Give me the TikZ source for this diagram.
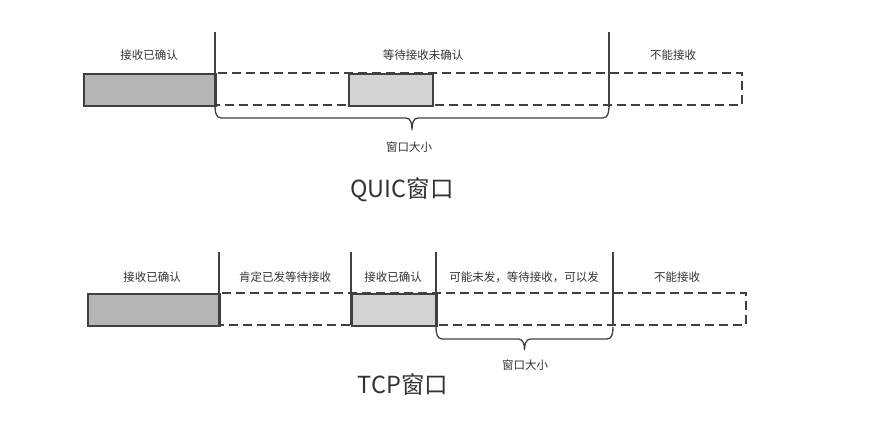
\documentclass[tikz,border=0pt]{standalone}
\usepackage{fontspec}
\setmainfont{Noto Sans CJK SC}
\begin{document}
\begin{tikzpicture}[x=1pt,y=-1pt,
  linec/.style={draw={rgb,255:red,64;green,64;blue,64}},
  cell/.style={linec, line width=1.5pt, minimum height=32pt, inner sep=0pt, anchor=north west},
  darkcell/.style={cell, fill={rgb,255:red,181;green,181;blue,181}},
  lightcell/.style={cell, fill={rgb,255:red,211;green,211;blue,211}},
  dashbox/.style={linec, line width=1.5pt, dash pattern=on 9pt off 5pt},
  divider/.style={linec, line width=1.3pt},
  bracepath/.style={linec, line width=1.3pt},
  lbl/.style={font=\fontsize{11.5}{13}\selectfont, text={rgb,255:red,51;green,51;blue,51}, inner sep=0pt},
  title/.style={font=\fontsize{23.5}{27}\selectfont, text={rgb,255:red,51;green,51;blue,51}, inner sep=0pt}
]
\useasboundingbox (0,0) rectangle (888,440);

% ---------------- QUIC ----------------
\coordinate (qds) at (215,73);
\coordinate (qde) at (742,105);
\draw[dashbox] (qds) rectangle (qde);
\node[darkcell, minimum width=132pt] (qdark) at (83,73) {};
\node[lightcell, minimum width=84pt] (qlight) at (348,73) {};
\coordinate (qv1t) at (215,32);
\coordinate (qv1b) at (215,105);
\coordinate (qv2t) at (609,32);
\coordinate (qv2b) at (609,107);
\draw[divider] (qv1t) -- (qv1b);
\draw[divider] (qv2t) -- (qv2b);

\node[lbl] (ql1) at (149,55) {接收已确认};
\node[lbl] (ql2) at (423,55) {等待接收未确认};
\node[lbl] (ql3) at (673,55) {不能接收};

% brace
\coordinate (qb1) at (215,106);
\coordinate (qb2) at (609,106);
\coordinate (qbm) at (412,130);
\draw[bracepath] (qb1) to[out=-90,in=180] (221,118) -- (406,118)
  to[out=0,in=90] (qbm) to[out=90,in=180] (418,118) -- (603,118)
  to[out=0,in=-90] (qb2);
\node[lbl] (qwin) at (409,147) {窗口大小};
\node[title] (qtitle) at (402,190) {QUIC窗口};

% ---------------- TCP ----------------
\coordinate (tds) at (219,293);
\coordinate (tde) at (746,325);
\draw[dashbox] (tds) rectangle (tde);
\node[darkcell, minimum width=132pt] (tdark) at (87,293) {};
\node[lightcell, minimum width=85pt] (tlight) at (351,293) {};
\coordinate (tv1t) at (219,252);
\coordinate (tv1b) at (219,325);
\coordinate (tv2t) at (351,252);
\coordinate (tv2b) at (351,325);
\coordinate (tv3t) at (436,252);
\coordinate (tv3b) at (436,325);
\coordinate (tv4t) at (613,252);
\coordinate (tv4b) at (613,325);
\draw[divider] (tv1t) -- (tv1b);
\draw[divider] (tv2t) -- (tv2b);
\draw[divider] (tv3t) -- (tv3b);
\draw[divider] (tv4t) -- (tv4b);

\node[lbl] (tl1) at (152,277) {接收已确认};
\node[lbl] (tl2) at (285,277) {肯定已发等待接收};
\node[lbl] (tl3) at (393,277) {接收已确认};
\node[lbl] (tl4) at (524,277) {可能未发，等待接收，可以发};
\node[lbl] (tl5) at (677,277) {不能接收};

\coordinate (tb1) at (436,327);
\coordinate (tb2) at (613,327);
\coordinate (tbm) at (524.5,350);
\draw[bracepath] (tb1) to[out=-90,in=180] (442,339) -- (518.5,339)
  to[out=0,in=90] (tbm) to[out=90,in=180] (530.5,339) -- (607,339)
  to[out=0,in=-90] (tb2);
\node[lbl] (twin) at (525,365) {窗口大小};
\node[title] (ttitle) at (403,385) {TCP窗口};
\end{tikzpicture}
\end{document}
